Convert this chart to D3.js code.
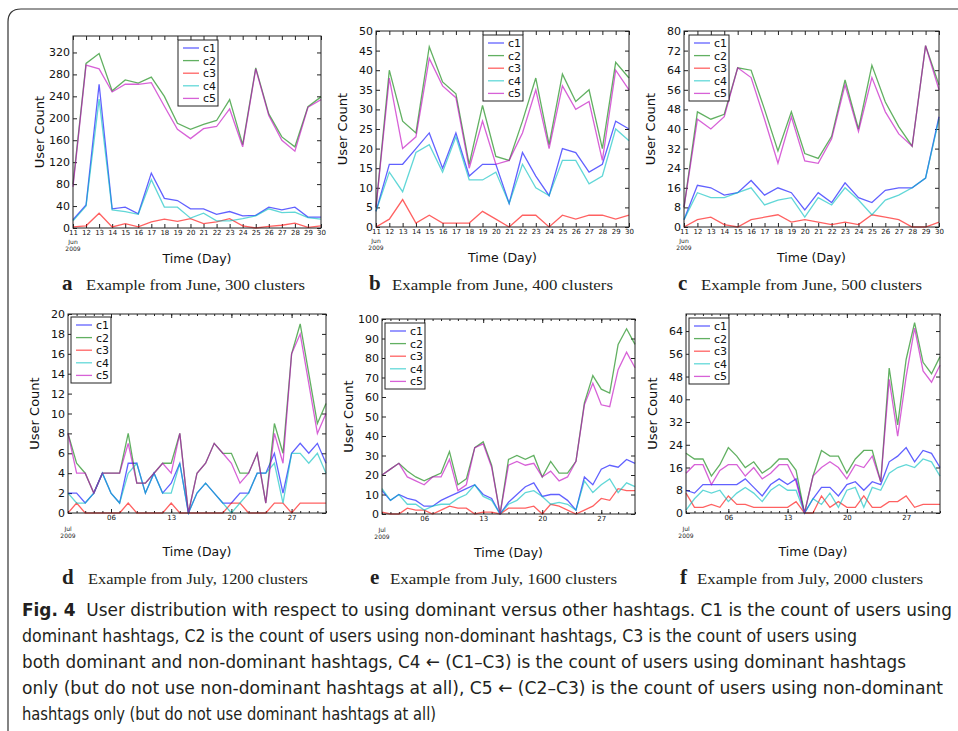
<!DOCTYPE html>
<html>
<head>
<meta charset="utf-8">
<script src="https://cdn.jsdelivr.net/npm/d3@7"></script>
<style>
  body { margin: 0; background: #fff; }
  text { font-family: "DejaVu Sans", sans-serif; }
</style>
</head>
<body>
<svg width="958" height="731"></svg>
<script>
const svg = d3.select('svg');

// x categories (days of month)
const juneDays = [11, 12, 13, 14, 15, 16, 17, 18, 19, 20, 21, 22, 23, 24, 25, 26, 27, 28, 29, 30];
const julyDays = [1, 2, 3, 4, 5, 6, 7, 8, 9, 10, 11, 12, 13, 14, 15, 16, 17, 18, 19, 20,
  21, 22, 23, 24, 25, 26, 27, 28, 29, 30, 31];
const julyMajorDays = [6, 13, 20, 27];
const seriesNames = ['c1', 'c2', 'c3', 'c4', 'c5'];

// panel a: June, 300 clusters
const aC1 = [15, 42, 262, 35, 38, 26, 100, 54, 50, 35, 35, 25, 30, 22, 23, 38, 33, 38, 20, 20];
const aC2 = [80, 300, 318, 250, 270, 264, 275, 240, 191, 180, 189, 196, 234, 152, 292, 208, 166, 148, 221, 239];
const aC3 = [2, 4, 27, 2, 8, 2, 11, 16, 12, 17, 8, 11, 17, 4, 0, 3, 5, 9, 1, 4];
const aC4 = [13, 40, 235, 33, 30, 25, 88, 38, 38, 18, 27, 13, 13, 17, 22, 35, 28, 29, 19, 16];
const aC5 = [75, 297, 290, 248, 262, 262, 265, 222, 180, 163, 181, 185, 217, 148, 290, 205, 160, 140, 220, 234];

// panel b: June, 400 clusters
const bC1 = [4, 16, 16, 20, 24, 15, 24, 13, 16, 16, 6, 19, 13, 8, 20, 19, 14, 16, 27, 25];
const bC2 = [5, 40, 27, 24, 46, 37, 34, 16, 31, 18, 17, 27, 38, 21, 39, 32, 35, 20, 42, 38];
const bC3 = [0, 2, 7, 1, 3, 1, 1, 1, 4, 2, 0, 3, 3, 0, 3, 2, 3, 3, 2, 3];
const bC4 = [4, 14, 9, 19, 21, 14, 23, 12, 12, 14, 6, 16, 10, 8, 17, 17, 11, 13, 25, 22];
const bC5 = [5, 38, 20, 23, 43, 36, 33, 15, 27, 16, 17, 24, 35, 20, 36, 30, 32, 17, 40, 35];

// panel c: June, 500 clusters
const cC1 = [3, 17, 16, 13, 14, 19, 13, 16, 14, 7, 14, 10, 18, 12, 10, 15, 16, 16, 20, 45];
const cC2 = [8, 47, 44, 46, 65, 64, 48, 31, 47, 30, 28, 37, 60, 40, 66, 51, 41, 33, 74, 58];
const cC3 = [0, 3, 4, 1, 0, 3, 4, 5, 2, 3, 2, 1, 2, 1, 5, 4, 3, 0, 0, 2];
const cC4 = [3, 14, 12, 12, 14, 16, 9, 11, 12, 4, 12, 9, 16, 11, 5, 11, 13, 16, 20, 44];
const cC5 = [8, 44, 40, 45, 65, 61, 44, 26, 45, 27, 26, 36, 58, 39, 61, 47, 38, 33, 74, 56];

// panel d: July, 1200 clusters
const dC1 = [2, 2, 1, 2, 4, 2, 1, 5, 5, 2, 4, 2, 3, 5, 0, 2, 3, 2, 1, 1, 2, 2, 4, 4, 6, 2, 6, 7, 6, 7, 5];
const dC2 = [8, 5, 4, 2, 4, 4, 4, 8, 3, 3, 4, 5, 5, 8, 0, 4, 5, 7, 6, 6, 4, 4, 6, 1, 9, 6, 16, 19, 14, 9, 11];
const dC3 = [0, 1, 0, 0, 0, 0, 0, 1, 0, 0, 0, 0, 1, 0, 0, 0, 0, 0, 0, 1, 1, 0, 0, 0, 1, 1, 0, 1, 1, 1, 1];
const dC4 = [2, 1, 1, 2, 4, 2, 1, 4, 5, 2, 4, 2, 2, 5, 0, 2, 3, 2, 1, 0, 1, 2, 4, 4, 5, 1, 6, 6, 5, 6, 4];
const dC5 = [8, 4, 4, 2, 4, 4, 4, 7, 3, 3, 4, 5, 4, 8, 0, 4, 5, 7, 6, 5, 3, 4, 6, 1, 8, 5, 16, 18, 13, 8, 10];

// panel e: July, 1600 clusters
const eC1 = [12, 7, 10, 8, 7, 4, 4, 7, 9, 11, 13, 15, 10, 8, 0, 6, 10, 14, 16, 9, 10, 10, 7, 2, 19, 15, 23, 25, 24, 28, 26];
const eC2 = [20, 23, 26, 22, 19, 17, 19, 21, 32, 15, 18, 34, 37, 25, 0, 28, 30, 28, 30, 19, 27, 21, 21, 27, 57, 71, 64, 62, 87, 95, 87];
const eC3 = [1, 0, 0, 3, 2, 2, 0, 2, 4, 3, 3, 0, 1, 1, 0, 3, 3, 3, 4, 0, 5, 4, 2, 0, 2, 4, 8, 7, 13, 12, 12];
const eC4 = [13, 7, 10, 5, 5, 2, 4, 5, 5, 8, 10, 15, 9, 7, 0, 5, 7, 11, 12, 9, 5, 6, 5, 2, 17, 11, 15, 18, 11, 16, 14];
const eC5 = [20, 23, 26, 19, 17, 15, 19, 19, 28, 12, 15, 34, 36, 24, 0, 25, 27, 25, 26, 19, 22, 17, 19, 27, 56, 67, 56, 55, 74, 83, 75];

// panel f: July, 2000 clusters
const fC1 = [8, 7, 10, 10, 10, 10, 10, 12, 9, 6, 10, 12, 10, 12, 0, 5, 9, 9, 6, 10, 11, 8, 11, 10, 18, 20, 23, 18, 22, 21, 16];
const fC2 = [21, 19, 19, 13, 17, 23, 20, 16, 18, 14, 16, 19, 19, 15, 0, 13, 22, 20, 20, 14, 19, 22, 22, 11, 51, 31, 54, 67, 53, 49, 55];
const fC3 = [7, 2, 2, 3, 2, 6, 3, 3, 2, 2, 2, 2, 2, 4, 0, 0, 6, 2, 4, 2, 2, 6, 2, 2, 4, 4, 6, 2, 3, 3, 3];
const fC4 = [1, 5, 8, 7, 8, 4, 7, 9, 7, 4, 8, 10, 8, 8, 0, 5, 3, 7, 2, 8, 9, 2, 9, 8, 14, 16, 17, 16, 19, 18, 13];
const fC5 = [14, 17, 17, 10, 15, 17, 17, 13, 16, 12, 14, 17, 17, 11, 0, 13, 16, 18, 16, 12, 17, 16, 20, 11, 47, 27, 48, 65, 50, 46, 52];

const lineColor = d3.scaleOrdinal()
  .domain(seriesNames)
  .range(['#0000ff', '#008000', '#ff0000', '#00bfbf', '#bf00bf']);

const panels = [
  { letter: 'a', text: 'Example from June, 300 clusters', month: 5, days: juneDays, series: [aC1, aC2, aC3, aC4, aC5],
    x0: 73, x1: 321, y0: 36, y1: 228, ymax: 350, ystep: 40, legend: [178, 40],
    capX: 62, capTextX: 86, capW: 219, capY: 290 },
  { letter: 'b', text: 'Example from June, 400 clusters', month: 5, days: juneDays, series: [bC1, bC2, bC3, bC4, bC5],
    x0: 376, x1: 629, y0: 31, y1: 227, ymax: 50, ystep: 5, legend: [483, 35],
    capX: 369, capTextX: 392, capW: 221, capY: 290 },
  { letter: 'c', text: 'Example from June, 500 clusters', month: 5, days: juneDays, series: [cC1, cC2, cC3, cC4, cC5],
    x0: 684, x1: 939, y0: 31, y1: 227, ymax: 80, ystep: 8, legend: [689, 35],
    capX: 678, capTextX: 701, capW: 221, capY: 290 },
  { letter: 'd', text: 'Example from July, 1200 clusters', month: 6, days: julyDays, series: [dC1, dC2, dC3, dC4, dC5],
    x0: 68, x1: 326, y0: 314, y1: 513, ymax: 20, ystep: 2, legend: [71, 317],
    capX: 62, capTextX: 88, capW: 220, capY: 584 },
  { letter: 'e', text: 'Example from July, 1600 clusters', month: 6, days: julyDays, series: [eC1, eC2, eC3, eC4, eC5],
    x0: 382, x1: 635, y0: 319, y1: 514, ymax: 100, ystep: 10, legend: [385, 323],
    capX: 370, capTextX: 390, capW: 227, capY: 584 },
  { letter: 'f', text: 'Example from July, 2000 clusters', month: 6, days: julyDays, series: [fC1, fC2, fC3, fC4, fC5],
    x0: 686, x1: 940, y0: 314, y1: 513, ymax: 70, ystep: 8, legend: [689, 318],
    capX: 680, capTextX: 697, capW: 226, capY: 584 }
];

const toDate = (month, day) => new Date(Date.UTC(2009, month, day));

const drawPanel = (p) => {
  const g = svg.append('g').attr('class', 'panel-' + p.letter);
  const dates = p.days.map(d => toDate(p.month, d));
  const x = d3.scaleUtc().domain(d3.extent(dates)).range([p.x0, p.x1]);
  const y = d3.scaleLinear().domain([0, p.ymax]).range([p.y1, p.y0]);
  const yVals = d3.range(0, p.ymax + 1e-9, p.ystep);

  // y axes (ticks pointing inward)
  const yl = g.append('g').attr('transform', `translate(${p.x0},0)`)
    .call(d3.axisLeft(y).tickValues(yVals).tickSizeInner(-4).tickSizeOuter(0).tickPadding(3));
  yl.selectAll('text').style('font-size', '11px').attr('fill', '#111');
  g.append('g').attr('transform', `translate(${p.x1},0)`)
    .call(d3.axisRight(y).tickValues(yVals).tickSizeInner(-4).tickSizeOuter(0).tickFormat(''));

  // x axes
  const isJune = p.month === 5;
  const majors = isJune ? dates : julyMajorDays.map(d => toDate(p.month, d));
  const fmt = isJune ? d3.utcFormat('%-d') : d3.utcFormat('%d');
  const xb = g.append('g').attr('transform', `translate(0,${p.y1})`)
    .call(d3.axisBottom(x).tickValues(majors).tickFormat(fmt).tickSizeInner(-4).tickSizeOuter(0).tickPadding(2));
  xb.selectAll('text').style('font-size', '7px').attr('fill', '#111');
  g.append('g').attr('transform', `translate(0,${p.y0})`)
    .call(d3.axisTop(x).tickValues(majors).tickFormat('').tickSizeInner(-4).tickSizeOuter(0));
  if (!isJune) {
    g.append('g').attr('transform', `translate(0,${p.y1})`)
      .call(d3.axisBottom(x).tickValues(dates).tickFormat('').tickSizeInner(-2).tickSizeOuter(0));
    g.append('g').attr('transform', `translate(0,${p.y0})`)
      .call(d3.axisTop(x).tickValues(dates).tickFormat('').tickSizeInner(-2).tickSizeOuter(0));
  }
  g.selectAll('.domain').remove();
  g.selectAll('.tick line').attr('stroke', '#222');

  // month / year label under the first day
  const mLabel = g.append('text')
    .attr('x', p.x0)
    .attr('text-anchor', 'middle')
    .style('font-size', '6px')
    .attr('fill', '#222');
  const my = isJune ? p.y1 + 16 : p.y1 + 18;
  mLabel.append('tspan').attr('x', p.x0).attr('y', my).text(isJune ? 'Jun' : 'Jul');
  mLabel.append('tspan').attr('x', p.x0).attr('y', my + 6.5).text('2009');

  // lines
  const line = d3.line()
    .x((v, i) => x(dates[i]))
    .y(v => y(v));
  g.append('g').selectAll('path.series')
    .data(p.series)
    .join('path')
      .attr('class', 'series')
      .attr('d', line)
      .attr('fill', 'none')
      .attr('stroke', (s, i) => lineColor(seriesNames[i]))
      .attr('stroke-opacity', 0.62)
      .attr('stroke-width', 1.3)
      .attr('stroke-linejoin', 'miter');

  // frame
  g.append('rect')
    .attr('x', p.x0).attr('y', p.y0)
    .attr('width', p.x1 - p.x0).attr('height', p.y1 - p.y0)
    .attr('fill', 'none').attr('stroke', '#222').attr('stroke-width', 1);

  // legend
  const [lx, ly] = p.legend;
  const lg = g.append('g').attr('transform', `translate(${lx},${ly})`);
  lg.append('rect')
    .attr('width', 40).attr('height', 66)
    .attr('fill', '#fff').attr('stroke', '#222').attr('stroke-width', 1);
  const item = lg.selectAll('g.item')
    .data(seriesNames)
    .join('g')
      .attr('class', 'item')
      .attr('transform', (s, i) => `translate(0,${8 + i * 12.6})`);
  item.append('line')
    .attr('x1', 5).attr('x2', 21)
    .attr('stroke', s => lineColor(s))
    .attr('stroke-opacity', 0.62)
    .attr('stroke-width', 1.3);
  item.append('text')
    .attr('x', 25).attr('y', 4)
    .style('font-size', '11px')
    .attr('fill', '#111')
    .text(s => s);

  // axis titles
  svg.append('text')
    .attr('transform', `translate(${p.x0 - 29},${(p.y0 + p.y1) / 2}) rotate(-90)`)
    .attr('text-anchor', 'middle')
    .style('font-size', '13px')
    .attr('fill', '#111')
    .text('User Count');
  svg.append('text')
    .attr('x', (p.x0 + p.x1) / 2)
    .attr('y', p.y1 + (isJune ? 35 : 43))
    .attr('text-anchor', 'middle')
    .style('font-size', '12.5px')
    .attr('fill', '#111')
    .text('Time (Day)');

  // sub caption
  svg.append('text')
    .attr('x', p.capX).attr('y', p.capY)
    .style('font-family', '"Liberation Serif", serif')
    .style('font-size', '21px')
    .style('font-weight', 'bold')
    .attr('fill', '#231f20')
    .text(p.letter);
  svg.append('text')
    .attr('x', p.capTextX).attr('y', p.capY)
    .attr('textLength', p.capW)
    .attr('lengthAdjust', 'spacingAndGlyphs')
    .style('font-family', '"Liberation Serif", serif')
    .style('font-size', '15px')
    .attr('fill', '#231f20')
    .text(p.text);
};

panels.forEach(drawPanel);

// border of the figure box
svg.append('path')
  .attr('d', 'M8,731 V22 Q8,9 21,9 H958')
  .attr('fill', 'none')
  .attr('stroke', '#333')
  .attr('stroke-width', 1.2);

// figure caption
const captionLines = [
  'User distribution with respect to using dominant versus other hashtags. C1 is the count of users using',
  'dominant hashtags, C2 is the count of users using non-dominant hashtags, C3 is the count of users using',
  'both dominant and non-dominant hashtags, C4 \u2190 (C1\u2013C3) is the count of users using dominant hashtags',
  'only (but do not use non-dominant hashtags at all), C5 \u2190 (C2\u2013C3) is the count of users using non-dominant',
  'hashtags only (but do not use dominant hashtags at all)'
];
const captionWidths = [930, 835, 884, 921, 414];

svg.append('g').selectAll('text.cap')
  .data(captionLines)
  .join('text')
    .attr('class', 'cap')
    .attr('x', 22)
    .attr('y', (t, i) => 616 + i * 26)
    .attr('textLength', (t, i) => captionWidths[i])
    .attr('lengthAdjust', 'spacingAndGlyphs')
    .style('font-family', '"DejaVu Sans Condensed", "Liberation Sans Narrow", "Liberation Sans", sans-serif')
    .style('font-size', '18px')
    .attr('fill', '#231f20')
    .each(function (t, i) {
      const el = d3.select(this);
      if (i === 0) {
        el.append('tspan').style('font-weight', 'bold').text('Fig. 4');
        el.append('tspan').text('\u00a0 ' + t);
      } else {
        el.text(t);
      }
    });
</script>
</body>
</html>
